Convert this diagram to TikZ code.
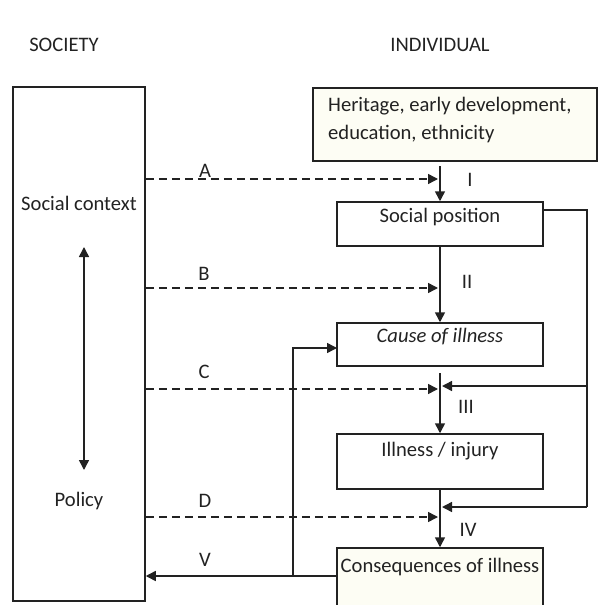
\documentclass[tikz,border=0pt]{standalone}
\usepackage{fontspec}
\setmainfont{Carlito}
\usetikzlibrary{arrows.meta}
\definecolor{ink}{HTML}{222222}
\definecolor{cream}{HTML}{FDFDF4}
\begin{document}
\begin{tikzpicture}[x=1pt,y=-1pt,
  every node/.style={font=\fontsize{20.6}{28}\selectfont, text=ink},
  box/.style={draw=ink, line width=1.5pt, inner sep=0pt},
  flow/.style={draw=ink, line width=1.5pt, -{Triangle[length=10pt,width=10pt]}},
  plain/.style={draw=ink, line width=1.5pt},
  dashflow/.style={draw=ink, line width=1.5pt, dash pattern=on 8pt off 5pt, -{Triangle[length=10pt,width=10pt]}},
  lab/.style={inner sep=1pt}]
\useasboundingbox (0,0) rectangle (598,605);
\clip (0,0) rectangle (598,605);
% titles
\node (tsoc) at (64,45) {SOCIETY};
\node (tind) at (440,45) {INDIVIDUAL};
% left box
\node[box, minimum width=132pt, minimum height=514pt] (lb) at (79,344) {};
\node (sc) at (79,203) {Social context};
\node (pol) at (79,501) {Policy};
\coordinate (dt) at (84,247);
\coordinate (db) at (84,470);
\draw[plain, {Triangle[length=10pt,width=10pt]}-{Triangle[length=10pt,width=10pt]}] (dt) -- (db);
% individual boxes
\node[box, fill=cream, minimum width=284pt, minimum height=73pt] (her) at (455,124.5) {};
\node[anchor=north west, align=left, inner sep=0pt] (hert) at (328,97) {Heritage, early development,\\education, ethnicity};
\node[box, minimum width=206pt, minimum height=44pt] (sp) at (440,224) {};
\node (spt) at (440,217) {Social position};
\node[box, minimum width=206pt, minimum height=43pt] (ci) at (440,344.5) {};
\node (cit) at (440,337) {\itshape Cause of illness};
\node[box, minimum width=206pt, minimum height=55pt] (ii) at (440,461.5) {};
\node (iit) at (440,451) {Illness / injury};
\node[box, fill=cream, minimum width=206pt, minimum height=64pt] (co) at (440,580) {};
\node (cot) at (440,567) {Consequences of illness};
% main vertical flow
\coordinate (s1) at (440,166);
\coordinate (s3) at (440,373);
\draw[flow] (s1) -- (sp.north);
\draw[flow] (sp.south) -- (ci.north);
\draw[flow] (s3) -- (ii.north);
\draw[flow] (ii.south) -- (co.north);
% dashed influences
\coordinate (ea) at (438,179);
\coordinate (eb) at (438,288);
\coordinate (ec) at (438,389);
\coordinate (ed) at (438,517);
\draw[dashflow] (lb.east |- ea) -- (ea);
\draw[dashflow] (lb.east |- eb) -- (eb);
\draw[dashflow] (lb.east |- ec) -- (ec);
\draw[dashflow] (lb.east |- ed) -- (ed);
% feedback from social position
\coordinate (fr) at (587,210);
\coordinate (f3) at (442,386);
\coordinate (f4) at (442,507);
\draw[plain] (sp.east |- fr) -- (fr) -- (fr |- f4);
\draw[flow] (fr |- f3) -- (f3);
\draw[flow] (fr |- f4) -- (f4);
% consequences back
\coordinate (vj) at (293,576);
\coordinate (vc) at (337,348);
\draw[flow] (co.west |- vj) -- (lb.east |- vj);
\draw[flow] (vj) |- (vc);
% labels
\node[lab] (la) at (205,171) {A};
\node[lab] (lbb) at (204,274) {B};
\node[lab] (lc) at (204,372) {C};
\node[lab] (ld) at (205,501) {D};
\node[lab] (lv) at (205,560) {V};
\node[lab] (l1) at (470,180) {I};
\node[lab] (l2) at (467,282) {II};
\node[lab] (l3) at (466,407) {III};
\node[lab] (l4) at (468,530) {IV};
\end{tikzpicture}
\end{document}
